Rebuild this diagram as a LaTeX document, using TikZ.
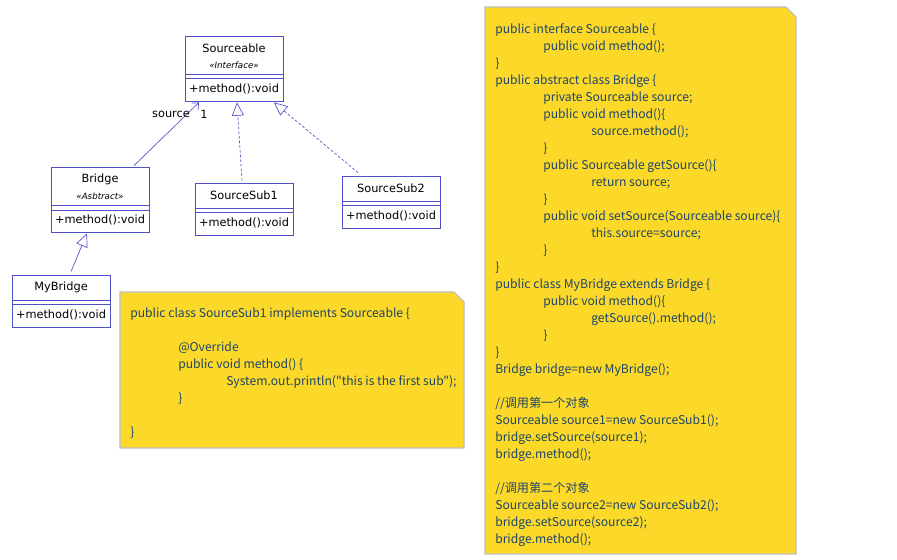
\documentclass[tikz,border=0pt]{standalone}
\usepackage{fontspec}
\setmainfont{DejaVu Sans}
\newfontfamily\cjk{Noto Sans CJK SC}
\usetikzlibrary{arrows.meta,calc}
\definecolor{umlblue}{RGB}{80,80,200}
\definecolor{noteyellow}{RGB}{252,216,40}
\definecolor{noteedge}{RGB}{190,190,190}
\definecolor{codeink}{RGB}{30,70,105}
\newcommand\codetab{\hspace*{36pt}}
\tikzset{
  cls/.style={draw=umlblue, line width=0.6pt, fill=white, inner sep=0pt, minimum width=73.5pt},
  bigcls/.style={cls, minimum height=48.75pt},
  smallcls/.style={cls, minimum height=39pt},
  sep/.style={draw=umlblue, line width=0.6pt},
  lbl/.style={inner sep=0pt, font=\fontsize{8.5}{10}\selectfont},
  stereo/.style={inner sep=0pt, font=\fontsize{6.5}{7}\selectfont\itshape},
  assoc/.style={draw=umlblue, line width=0.5pt, -{Straight Barb[length=4pt,width=7pt]}},
  realize/.style={draw=umlblue, line width=0.5pt, dash pattern=on 2pt off 1.5pt,
    -{Triangle[open,length=10pt,width=9pt,fill=white]}},
  inherit/.style={draw=umlblue, line width=0.5pt, -{Triangle[open,length=10pt,width=9pt,fill=white]}},
  note/.style={fill=noteyellow, draw=noteedge, line width=0.8pt},
  code/.style={inner sep=0pt, align=left, text=codeink, font=\cjk\fontsize{9.1}{12.75}\selectfont}
}
\begin{document}
\begin{tikzpicture}[x=0.75pt,y=-0.75pt]
  \useasboundingbox (0,0) rectangle (897,560);
  % class boxes
  \node[bigcls] (srcbl) at (234,68.5) {};
  \node[bigcls] (brdg) at (100,199.5) {};
  \node[smallcls] (sub1) at (244,209) {};
  \node[smallcls] (sub2) at (391,202) {};
  \node[smallcls] (mybr) at (61,301) {};
  \draw[sep] ($(srcbl.north west)+(0,39)$) -- ($(srcbl.north east)+(0,39)$);
  \draw[sep] ($(srcbl.north west)+(0,43)$) -- ($(srcbl.north east)+(0,43)$);
  \draw[sep] ($(brdg.north west)+(0,39)$) -- ($(brdg.north east)+(0,39)$);
  \draw[sep] ($(brdg.north west)+(0,44)$) -- ($(brdg.north east)+(0,44)$);
  \draw[sep] ($(sub1.north west)+(0,26)$) -- ($(sub1.north east)+(0,26)$);
  \draw[sep] ($(sub1.north west)+(0,30)$) -- ($(sub1.north east)+(0,30)$);
  \draw[sep] ($(sub2.north west)+(0,26)$) -- ($(sub2.north east)+(0,26)$);
  \draw[sep] ($(sub2.north west)+(0,30)$) -- ($(sub2.north east)+(0,30)$);
  \draw[sep] ($(mybr.north west)+(0,26)$) -- ($(mybr.north east)+(0,26)$);
  \draw[sep] ($(mybr.north west)+(0,30)$) -- ($(mybr.north east)+(0,30)$);
  % class texts
  \node[lbl] (srcbl-name) at ($(srcbl.north)+(0,13)$) {Sourceable};
  \node[stereo] (srcbl-st) at ($(srcbl.north)+(0,30)$) {«Interface»};
  \node[lbl] (srcbl-op) at ($(srcbl.north)+(0,53)$) {+method():void};
  \node[lbl] (brdg-name) at ($(brdg.north)+(0,13)$) {Bridge};
  \node[stereo] (brdg-st) at ($(brdg.north)+(0,30)$) {«Asbtract»};
  \node[lbl] (brdg-op) at ($(brdg.north)+(0,53)$) {+method():void};
  \node[lbl] (sub1-name) at ($(sub1.north)+(0,13)$) {SourceSub1};
  \node[lbl] (sub1-op) at ($(sub1.north)+(0,40)$) {+method():void};
  \node[lbl] (sub2-name) at ($(sub2.north)+(0,13)$) {SourceSub2};
  \node[lbl] (sub2-op) at ($(sub2.north)+(0,40)$) {+method():void};
  \node[lbl] (mybr-name) at ($(mybr.north)+(0,13)$) {MyBridge};
  \node[lbl] (mybr-op) at ($(mybr.north)+(0,40)$) {+method():void};
  % relations
  \draw[assoc] ($(brdg.north)+(34,-1)$) -- ($(srcbl.south)+(-35,1)$);
  \node[lbl] (role) at (171,114) {source};
  \node[lbl] (mult) at (204,114) {1};
  \draw[realize] ($(sub1.north)+(-2,-2)$) -- ($(srcbl.south)+(3,1)$);
  \draw[realize] ($(sub2.north)+(-33,-3)$) -- ($(srcbl.south)+(40,1)$);
  \draw[inherit] ($(mybr.north)+(10,-3)$) -- ($(brdg.south)+(-13,1)$);
  % notes
  \path[note] (120,292) -- (454,292) -- (464,302) -- (464,448) -- (120,448) -- cycle;
  \path[note] (485,7) -- (786,7) -- (796,17) -- (796,554) -- (485,554) -- cycle;
  \node[code, anchor=north west] (sub1-code) at (130,308) {%
    public class SourceSub1 implements Sourceable \{\\
    \mbox{}\\
    \codetab @Override\\
    \codetab public void method() \{\\
    \codetab\codetab System.out.println("this is the first sub");\\
    \codetab \}\\
    \mbox{}\\
    \}};
  \node[code, anchor=north west] (main-code) at (495,23) {%
    public interface Sourceable \{\\
    \codetab public void method();\\
    \}\\
    public abstract class Bridge \{\\
    \codetab private Sourceable source;\\
    \codetab public void method()\{\\
    \codetab\codetab source.method();\\
    \codetab \}\\
    \codetab public Sourceable getSource()\{\\
    \codetab\codetab return source;\\
    \codetab \}\\
    \codetab public void setSource(Sourceable source)\{\\
    \codetab\codetab this.source=source;\\
    \codetab \}\\
    \}\\
    public class MyBridge extends Bridge \{\\
    \codetab public void method()\{\\
    \codetab\codetab getSource().method();\\
    \codetab \}\\
    \}\\
    Bridge bridge=new MyBridge();\\
    \mbox{}\\
    //调用第一个对象\\
    Sourceable source1=new SourceSub1();\\
    bridge.setSource(source1);\\
    bridge.method();\\
    \mbox{}\\
    //调用第二个对象\\
    Sourceable source2=new SourceSub2();\\
    bridge.setSource(source2);\\
    bridge.method();};
\end{tikzpicture}
\end{document}
